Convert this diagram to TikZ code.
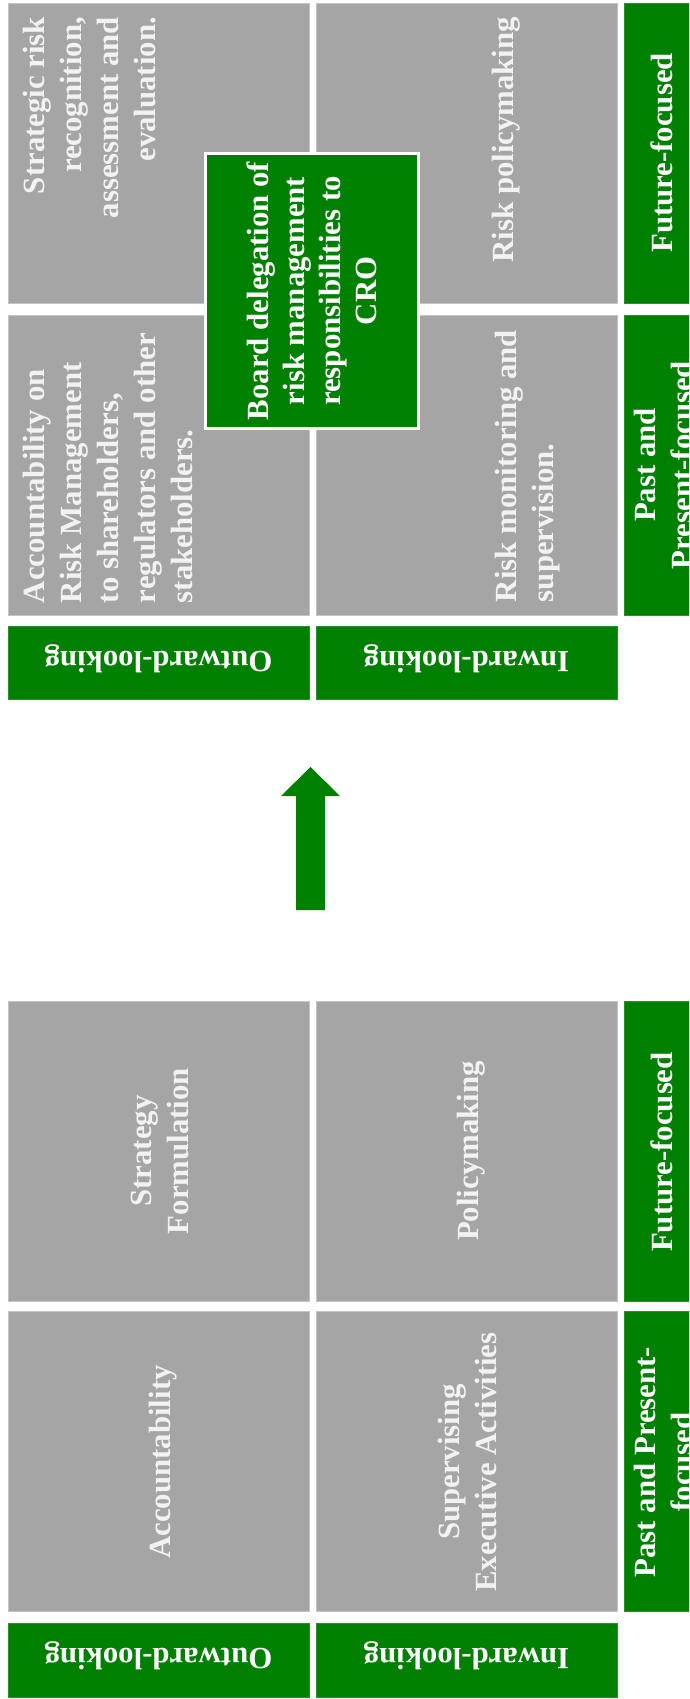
\documentclass[tikz,border=0pt]{standalone}
\usepackage{fontspec}
\setmainfont{Liberation Serif}
\definecolor{pgreen}{RGB}{0,128,0}
\definecolor{pgray}{RGB}{165,165,165}
\definecolor{pgrayedge}{RGB}{196,196,196}
\definecolor{pgreenedge}{RGB}{40,145,40}
\definecolor{ptext}{RGB}{242,242,242}
\tikzset{
  graybox/.style={rectangle, fill=pgray, draw=pgrayedge, line width=0.8pt, inner sep=0pt, outer sep=0pt},
  greenbox/.style={rectangle, fill=pgreen, draw=pgreenedge, line width=0.8pt, inner sep=0pt, outer sep=0pt},
  lbl/.style={font=\fontsize{30.8}{37}\selectfont\bfseries, inner sep=0pt, outer sep=0pt},
  graytxt/.style={lbl, text=ptext},
  greentxt/.style={lbl, text=white},
}
\begin{document}
\begin{tikzpicture}[x=1pt, y=-1pt]
\useasboundingbox (0,0) rectangle (689,1699);
\clip (0,0) rectangle (689,1699);
\fill[white] (0,0) rectangle (689,1699);

% ---------- top panel ----------
\node[graybox, minimum width=301pt, minimum height=300pt] (A1) at (158.5,153) {};
\node[graybox, minimum width=301pt, minimum height=300pt] (A2) at (466.5,153) {};
\node[greenbox, minimum width=86pt, minimum height=300pt] (A3) at (667,153) {};
\node[graybox, minimum width=301pt, minimum height=300pt] (B1) at (158.5,465) {};
\node[graybox, minimum width=301pt, minimum height=300pt] (B2) at (466.5,465) {};
\node[greenbox, minimum width=86pt, minimum height=300pt] (B3) at (667,465) {};
\node[greenbox, minimum width=301pt, minimum height=73pt] (C1) at (158.5,662.5) {};
\node[greenbox, minimum width=301pt, minimum height=73pt] (C2) at (466.5,662.5) {};

\node[graytxt, rotate=90, anchor=north east, align=right] (tA1) at (23,17)
  {Strategic risk\\recognition,\\assessment and\\evaluation.};
\node[graytxt, rotate=90, anchor=base east] (tA2) at (513,17) {Risk policymaking};
\node[greentxt, rotate=90, anchor=base] (tA3) at (672,153) {Future-focused};
\node[graytxt, rotate=90, anchor=north west, align=left] (tB1) at (23,603)
  {Accountability on\\Risk Management\\to shareholders,\\regulators and other\\stakeholders.};
\node[graytxt, rotate=90, anchor=north west, align=left] (tB2) at (495,602)
  {Risk monitoring and\\supervision.};
\node[greentxt, rotate=90, anchor=north, align=center] (tB3) at (634,465)
  {Past and\\Present-focused};
\node[greentxt, rotate=180, anchor=base] (tC1) at (158.5,651) {Outward-looking};
\node[greentxt, rotate=180, anchor=base] (tC2) at (466.5,651) {Inward-looking};

\node[rectangle, fill=pgreen, draw=white, line width=3pt, rotate=90,
      minimum width=275pt, minimum height=213pt, inner sep=0pt,
      text=white, align=center, font=\fontsize{30.8}{36}\selectfont\bfseries] (cro) at (312,291)
  {Board delegation of\\risk management\\responsibilities to\\CRO};

% ---------- arrow ----------
\fill[pgreen] (296,910) -- (296,796) -- (281,796) -- (310.5,767) -- (340,796)
  -- (325,796) -- (325,910) -- cycle;

% ---------- bottom panel ----------
\node[graybox, minimum width=301pt, minimum height=300pt] (D1) at (158.5,1151) {};
\node[graybox, minimum width=301pt, minimum height=300pt] (D2) at (466.5,1151) {};
\node[greenbox, minimum width=86pt, minimum height=300pt] (D3) at (667,1151) {};
\node[graybox, minimum width=301pt, minimum height=300pt] (E1) at (158.5,1461) {};
\node[graybox, minimum width=301pt, minimum height=300pt] (E2) at (466.5,1461) {};
\node[greenbox, minimum width=86pt, minimum height=300pt] (E3) at (667,1461) {};
\node[greenbox, minimum width=301pt, minimum height=74pt] (F1) at (158.5,1660) {};
\node[greenbox, minimum width=301pt, minimum height=74pt] (F2) at (466.5,1660) {};

\node[graytxt, rotate=90, anchor=north, align=center] (tD1) at (131,1151)
  {Strategy\\Formulation};
\node[graytxt, rotate=90, anchor=base] (tD2) at (478,1151) {Policymaking};
\node[greentxt, rotate=90, anchor=base] (tD3) at (672,1152) {Future-focused};
\node[graytxt, rotate=90, anchor=base] (tE1) at (170,1462) {Accountability};
\node[graytxt, rotate=90, anchor=north, align=center] (tE2) at (438,1462)
  {Supervising\\Executive Activities};
\node[greentxt, rotate=90, anchor=north, align=center] (tE3) at (634,1462)
  {Past and Present-\\focused};
\node[greentxt, rotate=180, anchor=base] (tF1) at (158.5,1648) {Outward-looking};
\node[greentxt, rotate=180, anchor=base] (tF2) at (466.5,1648) {Inward-looking};
\end{tikzpicture}
\end{document}
